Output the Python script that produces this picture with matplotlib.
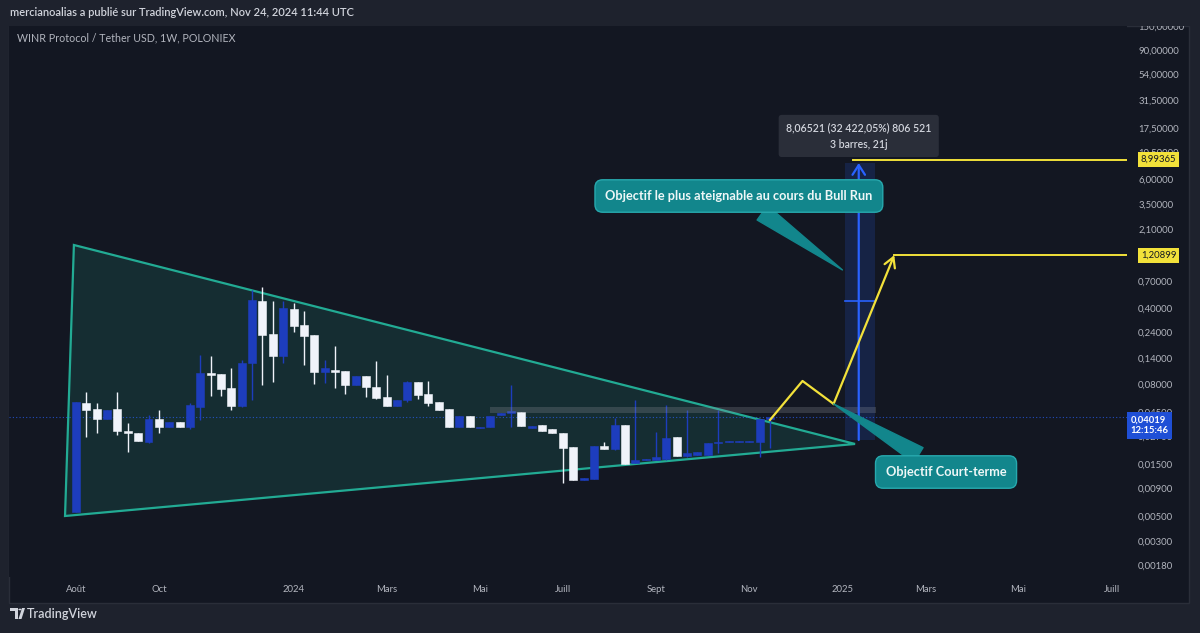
import matplotlib
matplotlib.use('Agg')
import matplotlib.pyplot as plt
import matplotlib.dates as mdates
import matplotlib.transforms as mtransforms
from matplotlib.patches import Rectangle, Polygon, Circle
from matplotlib.ticker import NullLocator
import numpy as np
import pandas as pd

plt.rcParams['font.family'] = ['Lato', 'DejaVu Sans']

debut = '2023-08-07'
ouv = [0.00548, 0.0541, 0.0477, 0.0387, 0.0477, 0.0301, 0.0288, 0.0239, 0.0387, 0.0327,
       0.0363, 0.0327, 0.0498, 0.1014, 0.0993, 0.0742, 0.0508, 0.1258, 0.461, 0.231,
       0.1455, 0.390, 0.278, 0.226, 0.1036, 0.108, 0.1058, 0.0790, 0.0952, 0.0758,
       0.0614, 0.0508, 0.0577, 0.0842, 0.0654, 0.0553, 0.0477, 0.0327, 0.0412, 0.0320,
       0.0327, 0.0421, 0.0439, 0.0448, 0.0320, 0.0341, 0.0314, 0.0288, 0.0215, 0.01074,
       0.01097, 0.0220, 0.0206, 0.0341, 0.01534, 0.01634, 0.01634, 0.01669, 0.0265, 0.0178,
       0.0182, 0.0182, 0.0234, 0.0239, 0.0239, 0.0239, 0.0239, 0.0387]
haut = [0.0553, 0.0682, 0.0541, 0.0467, 0.0682, 0.0356, 0.0288, 0.0421, 0.0467, 0.0363,
        0.0363, 0.0541, 0.1486, 0.1455, 0.0993, 0.1126, 0.134, 0.581, 0.619, 0.461,
        0.461, 0.442, 0.374, 0.226, 0.134, 0.1795, 0.1058, 0.0952, 0.0952, 0.1312,
        0.0972, 0.0577, 0.0860, 0.0842, 0.0860, 0.0553, 0.0477, 0.0412, 0.0412, 0.0327,
        0.0412, 0.0439, 0.0790, 0.0448, 0.0334, 0.0341, 0.0314, 0.0288, 0.0215, 0.0112,
        0.0220, 0.0239, 0.0395, 0.0341, 0.0577, 0.01669, 0.0294, 0.0519, 0.0265, 0.0467,
        0.0194, 0.0234, 0.0467, 0.0244, 0.0244, 0.0244, 0.0387, 0.0404]
bas = [0.00548, 0.0265, 0.0288, 0.0387, 0.0276, 0.0194, 0.0244, 0.0234, 0.0288, 0.0327,
       0.0327, 0.0314, 0.0379, 0.0627, 0.0627, 0.0467, 0.0498, 0.0577, 0.0790, 0.0842,
       0.1258, 0.241, 0.1206, 0.0807, 0.0824, 0.0742, 0.0654, 0.0790, 0.0614, 0.0589,
       0.0508, 0.0508, 0.0553, 0.0589, 0.0508, 0.0467, 0.0327, 0.0327, 0.0327, 0.0320,
       0.0327, 0.0421, 0.0327, 0.0334, 0.0320, 0.0301, 0.0288, 0.01008, 0.01074, 0.01074,
       0.01097, 0.0206, 0.0202, 0.01502, 0.01534, 0.01634, 0.01634, 0.01634, 0.0178, 0.0174,
       0.0182, 0.0182, 0.0190, 0.0239, 0.0239, 0.0239, 0.0174, 0.0211]
clot = [0.0553, 0.0467, 0.0387, 0.0467, 0.0301, 0.0288, 0.0244, 0.0387, 0.0327, 0.0363,
        0.0327, 0.0519, 0.1014, 0.0972, 0.0726, 0.0508, 0.1258, 0.471, 0.226, 0.1455,
        0.398, 0.272, 0.221, 0.1036, 0.1126, 0.1036, 0.0790, 0.0952, 0.0758, 0.0601,
        0.0508, 0.0577, 0.0842, 0.0640, 0.0541, 0.0467, 0.0327, 0.0412, 0.0327, 0.0327,
        0.0412, 0.0439, 0.0457, 0.0334, 0.0334, 0.0301, 0.0288, 0.0211, 0.01074, 0.0112,
        0.0220, 0.0206, 0.0341, 0.01502, 0.01634, 0.01669, 0.0174, 0.0260, 0.0178, 0.0190,
        0.0194, 0.0234, 0.0239, 0.0244, 0.0244, 0.0244, 0.0387, 0.04019]

prix_actuel = 0.04019
compte_rebours = '12:15:46'

# axes (le repère 1,2 est caché par l'étiquette jaune)
ticks_prix = [150, 90, 54, 31.5, 17.5, 10.5, 6, 3.5, 2.1, 0.7, 0.4, 0.24, 0.14,
              0.08, 0.045, 0.027, 0.015, 0.009, 0.005, 0.003, 0.0018]
ticks_dates = ['2023-08-07', '2023-10-02', '2024-01-01', '2024-03-04', '2024-05-06',
               '2024-07-01', '2024-09-02', '2024-11-04', '2025-01-06', '2025-03-03',
               '2025-05-05', '2025-07-07']
ticks_noms = ['Août', 'Oct', '2024', 'Mars', 'Mai', 'Juill', 'Sept', 'Nov', '2025',
              'Mars', 'Mai', 'Juill']

# dessins
triangle_dates = ['2023-08-05 14:00', '2023-07-30 14:00', '2025-01-14 12:00']
triangle_prix = [1.497, 0.00504, 0.0229]
bande_dates = ['2024-05-13', '2025-01-29']
bande_prix = [0.0438, 0.0498]
mesure_dates = ['2025-01-07 17:00', '2025-01-28 00:00']
mesure_prix = [0.0249, 8.38]
mesure_milieu = 0.457
fleche_date = '2025-01-17'
mesure_texte = '8,06521 (32\u202f422,05%) 806\u202f521\n3 barres, 21j'
mesure_pos = ('2025-01-17', 14.8)
jaune_dates = ['2024-11-18', '2024-12-10', '2024-12-31', '2025-02-10']
jaune_prix = [0.0379, 0.0860, 0.0531, 1.20899]
cible_haute = 8.99365
cible_haute_debut = '2025-01-13'
cible_basse = 1.20899
bulle1 = 'Objectif le plus ateignable au cours du Bull Run'
bulle1_pos = ('2024-10-28', 4.19)
bulle1_pointe = ('2025-01-06', 0.886)
bulle2 = 'Objectif Court-terme'
bulle2_pos = ('2025-03-17', 0.0127)


def dn(s):
    return mdates.date2num(pd.to_datetime(s, format='ISO8601'))


def fr(v):
    return f'{v:.5f}'.replace('.', ',')


W, H = 1200, 633
fig = plt.figure(figsize=(12, 6.33), dpi=100, facecolor='#1e222d')


def fx(p):
    return p / W


def fy(p):
    return 1 - p / H


# panneau du graphique
fig.patches.append(Rectangle((fx(9), fy(603)), fx(1180), (603 - 26) / H, transform=fig.transFigure,
                             facecolor='#131722', edgecolor='#2a2e39', lw=1, zorder=-1))

ax = fig.add_axes([fx(9), fy(577), fx(1127 - 9), (577 - 25.4) / H])
ax.set_facecolor('#131722')
for s in ax.spines.values():
    s.set_visible(False)

ax.set_yscale('log')
t0 = pd.Timestamp(debut)
ax.set_xlim(dn(t0 - pd.Timedelta(days=45.28)), dn(t0 + pd.Timedelta(days=710.3)))
ax.set_ylim(0.001399, 151)

ax.set_yticks(ticks_prix)
ax.set_yticklabels([fr(v) for v in ticks_prix])
ax.yaxis.set_minor_locator(NullLocator())
ax.yaxis.tick_right()
ax.tick_params(axis='y', which='both', length=0, pad=8, colors='#b2b5be', labelsize=6.8)
ax.set_xticks(dn(ticks_dates))
ax.set_xticklabels(ticks_noms)
ax.tick_params(axis='x', length=0, pad=6, colors='#b2b5be', labelsize=6.8)

# triangle
ax.fill(dn(triangle_dates), triangle_prix, facecolor=(0.13, 0.67, 0.58, 0.15),
        edgecolor='#22ab94', lw=1.6, zorder=1)

# bougies
x = dn(pd.date_range(debut, periods=len(ouv), freq='7D'))
o = np.array(ouv)
c = np.array(clot)
col = np.where(c >= o, '#1d3dbd', '#f0f3fa')
ax.vlines(x, bas, haut, colors=col, lw=1, zorder=3)
ax.bar(x, c - o, bottom=o, width=5.4, color=col, edgecolor=col, lw=0.4, zorder=3)

# ligne du prix actuel
ax.axhline(prix_actuel, color='#2962ff', ls=(0, (1, 2)), lw=0.8, alpha=0.7, zorder=2)

# bande grise
ax.fill_between(dn(bande_dates), bande_prix[0], bande_prix[1], color='#9598a1', alpha=0.25,
                lw=0, zorder=4)

# outil de mesure
ax.fill_between(dn(mesure_dates), mesure_prix[0], mesure_prix[1], color='#2962ff', alpha=0.16,
                lw=0, zorder=2)
ax.plot(dn(mesure_dates), [mesure_milieu, mesure_milieu], color='#2962ff', lw=1.2, zorder=5)
ax.annotate('', xy=(dn(fleche_date), mesure_prix[1]), xytext=(dn(fleche_date), mesure_prix[0]),
            arrowprops=dict(arrowstyle='->,head_length=0.7,head_width=0.45', color='#2962ff',
                            lw=1.6, shrinkA=0, shrinkB=0), zorder=5)
ax.text(dn(mesure_pos[0]), mesure_pos[1], mesure_texte, ha='center', va='center', fontsize=7.6,
        color='#d1d4dc', fontweight='semibold', linespacing=1.6, zorder=8,
        bbox=dict(boxstyle='round,pad=0.7,rounding_size=0.3', fc='#2a2e39', ec='none'))

# trajectoire jaune
jaune = '#f2e13a'
jx = dn(jaune_dates)
ax.plot(jx[:3], jaune_prix[:3], color=jaune, lw=1.6, zorder=6)
ax.annotate('', xy=(jx[3], jaune_prix[3]), xytext=(jx[2], jaune_prix[2]),
            arrowprops=dict(arrowstyle='->,head_length=0.7,head_width=0.4', color=jaune, lw=1.6,
                            shrinkA=0, shrinkB=0), zorder=6)
x_fin = ax.get_xlim()[1]
ax.plot([jx[3], x_fin], [cible_basse, cible_basse], color=jaune, lw=1.4, zorder=6)
ax.plot([dn(cible_haute_debut), x_fin], [cible_haute, cible_haute], color=jaune, lw=1.4, zorder=6)

# étiquettes sur l'échelle de prix
tr = mtransforms.blended_transform_factory(ax.transAxes, ax.transData)
for v in [cible_haute, cible_basse]:
    ax.text(1.0125, v, fr(v), transform=tr, ha='left', va='center', fontsize=6.8, color='#131722',
            clip_on=False, zorder=9,
            bbox=dict(boxstyle='square,pad=0.3', fc=jaune, ec='none'))
ax.annotate(fr(prix_actuel) + '\n' + compte_rebours, xy=(1.0, prix_actuel), xycoords=tr,
            xytext=(2.5, -6), textcoords='offset points', ha='left', va='center', fontsize=6.8,
            color='white', fontweight='bold', linespacing=1.25, annotation_clip=False, zorder=9,
            bbox=dict(boxstyle='square,pad=0.35', fc='#1f4fd6', ec='none'))

# bulles
teal = '#12868c'
for txt, pos, cible in [(bulle1, bulle1_pos, bulle1_pointe),
                        (bulle2, bulle2_pos, (jaune_dates[2], jaune_prix[2]))]:
    ax.annotate(txt, xy=(dn(cible[0]), cible[1]), xytext=(dn(pos[0]), pos[1]),
                ha='center', va='center', fontsize=9.2, fontweight='bold', color='#eef7f7',
                zorder=10,
                bbox=dict(boxstyle='round,pad=0.8,rounding_size=0.6', fc=teal, ec='#27a9ae', lw=1),
                arrowprops=dict(arrowstyle='wedge,tail_width=1.4,shrink_factor=0.5', fc=teal,
                                ec=teal, shrinkA=0, shrinkB=0))

# en-tête
fig.patches.append(Rectangle((0, fy(26)), 1, 26 / H, transform=fig.transFigure,
                             facecolor='#1e222d', edgecolor='none', zorder=20))
fig.text(fx(10), fy(13), 'mercianoalias a publié sur TradingView.com, Nov 24, 2024 11:44 UTC',
         va='center', ha='left', fontsize=8.0, color='#d1d4dc', fontweight='semibold', zorder=21)
fig.text(fx(17), fy(38), 'WINR Protocol / Tether USD, 1W, POLONIEX', va='center', ha='left',
         fontsize=7.7, color='#b2b5be', zorder=21)

# logo TradingView
lc = '#d1d4dc'
fig.patches.append(Polygon([(fx(10), fy(608)), (fx(18), fy(608)), (fx(18), fy(619)),
                            (fx(15), fy(619)), (fx(15), fy(611)), (fx(10), fy(611))],
                           closed=True, transform=fig.transFigure, fc=lc, ec='none', zorder=21))
fig.patches.append(Circle((fx(20), fy(609.5)), 1.6 / W, transform=fig.transFigure, fc=lc,
                          ec='none', zorder=21))
fig.patches.append(Polygon([(fx(22), fy(608)), (fx(25), fy(608)), (fx(21.5), fy(619)),
                            (fx(18.5), fy(619))], closed=True, transform=fig.transFigure, fc=lc,
                           ec='none', zorder=21))
fig.text(fx(27), fy(613.5), 'TradingView', va='center', ha='left', fontsize=9, color=lc,
         fontweight='semibold', zorder=21)

fig.savefig('out.png', dpi=100, facecolor=fig.get_facecolor())
